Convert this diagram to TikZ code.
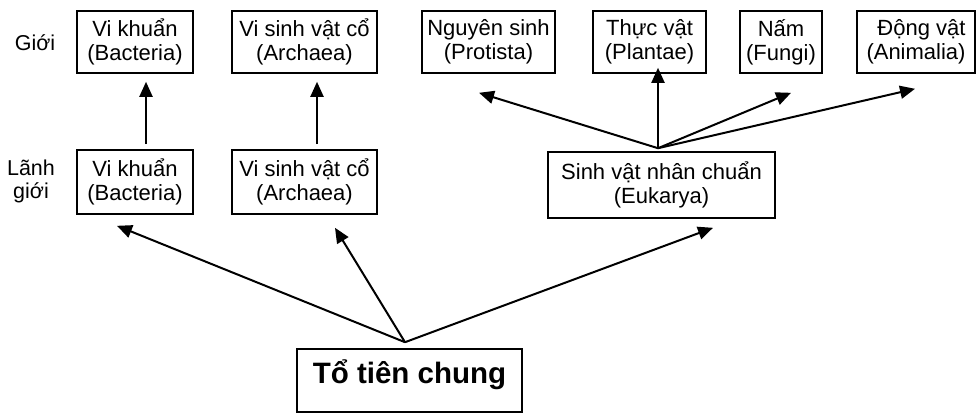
\documentclass[tikz,border=0pt]{standalone}
\usepackage{fontspec}
\setmainfont{Liberation Sans}
\usetikzlibrary{arrows.meta}
\begin{document}
\begin{tikzpicture}[x=1pt,y=-1pt,
  box/.style={draw, line width=1.6pt, align=center, inner sep=0pt,
    font=\fontsize{22}{24}\selectfont},
  toprow/.style={box, minimum height=62pt},
  midrow/.style={box, minimum height=64pt},
  lbl/.style={align=center, inner sep=0pt, font=\fontsize{21.5}{23}\selectfont},
  arr/.style={line width=2pt, -{Triangle[length=15pt,width=13pt]}}]
\useasboundingbox (0,0) rectangle (976,413);
% row labels
\node[lbl] (gioi) at (35,43) {Giới};
\node[lbl] (lanh) at (31,181) {Lãnh\\giới};
% kingdoms (Giới)
\node[toprow, minimum width=116pt] (tbac) at (135,42) {Vi khuẩn\\(Bacteria)};
\node[toprow, minimum width=145pt] (tarc) at (304.5,42) {Vi sinh vật cổ\\(Archaea)};
\node[toprow, minimum width=133pt] (tpro) at (488.5,42) {Nguyên sinh\\(Protista)};
\node[toprow, minimum width=113pt] (tpla) at (649.5,42) {Thực vật\\(Plantae)};
\node[toprow, minimum width=82pt] (tfun) at (781,42) {Nấm\\(Fungi)};
\node[toprow, minimum width=118pt, align=right] (tani) at (916,42) {Động vật\\(Animalia)};
% domains (Lãnh giới)
\node[midrow, minimum width=116pt] (mbac) at (135,182) {Vi khuẩn\\(Bacteria)};
\node[midrow, minimum width=145pt] (marc) at (304.5,182) {Vi sinh vật cổ\\(Archaea)};
\node[box, minimum width=227pt, minimum height=66pt] (euk) at (661.5,185) {Sinh vật nhân chuẩn\\(Eukarya)};
% common ancestor
\node[draw, line width=1.6pt, minimum width=225pt, inner sep=0pt,
  text height=34pt, text depth=29pt, anchor=base,
  font=\bfseries\fontsize{29.5}{30}\selectfont] (tot) at (409.5,383) {Tổ tiên chung};
% branching points
\coordinate (root) at ([shift={(-4.5,-6)}]tot.north);
\coordinate (eroot) at ([shift={(-3.5,-3)}]euk.north);
\coordinate (plab) at ([yshift=6]tpla.south);
% arrows from the common ancestor
\draw[arr] (root) -- ([shift={(-18,11)}]mbac.south);
\draw[arr] (root) -- ([shift={(30.5,13)}]marc.south);
\draw[arr] (root) -- ([shift={(51.5,9)}]euk.south);
% domain to kingdom
\draw[arr] ([shift={(11,-5)}]mbac.north) -- ([shift={(11,8)}]tbac.south);
\draw[arr] ([shift={(12.5,-5)}]marc.north) -- ([shift={(12.5,8)}]tarc.south);
% eukarya to kingdoms
\draw[arr] (eroot) -- ([shift={(-9.5,19)}]tpro.south);
\draw[arr] (eroot) -- (eroot |- plab);
\draw[arr] (eroot) -- ([shift={(10,19)}]tfun.south);
\draw[arr] (eroot) -- ([shift={(-1,15)}]tani.south);
\end{tikzpicture}
\end{document}
